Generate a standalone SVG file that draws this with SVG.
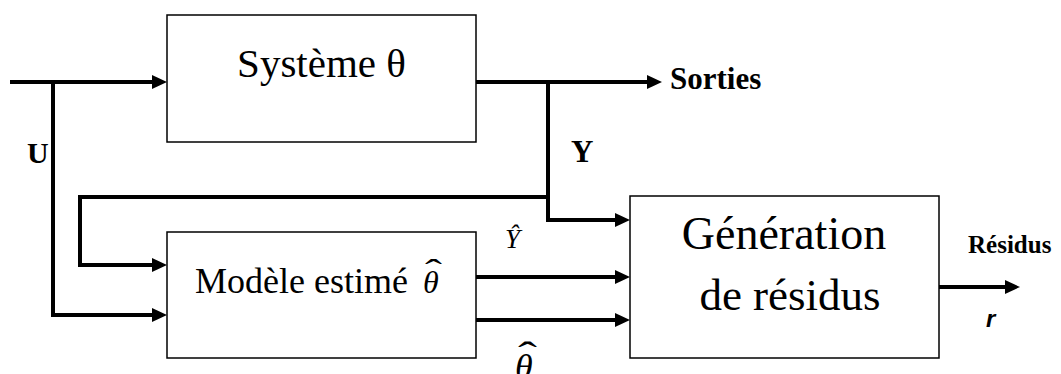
<svg xmlns="http://www.w3.org/2000/svg" width="1061" height="374" viewBox="0 0 1061 374">
<style>
.box{fill:#fff;stroke:#000;stroke-width:1.5}
.wire{fill:none;stroke:#000;stroke-width:4;stroke-linejoin:miter}
.serif{font-family:"Liberation Serif","Times New Roman",serif;fill:#000}
.bold{font-weight:bold}
.it{font-style:italic}
.sans{font-family:"Liberation Sans",Arial,sans-serif;fill:#000}
</style>
<defs>
<marker id="arr" markerUnits="userSpaceOnUse" markerWidth="16" markerHeight="15" refX="0" refY="7" orient="auto">
<path d="M0,0 L15,7 L0,14 z" fill="#000"/>
</marker>
</defs>
<rect width="1061" height="374" fill="#fff"/>
<g id="connectors">
<path class="wire" d="M10,82 H152" marker-end="url(#arr)"/>
<path class="wire" d="M53,82 V315 H152" marker-end="url(#arr)"/>
<path class="wire" d="M476,82 H647" marker-end="url(#arr)"/>
<path class="wire" d="M548,82 V220 H615" marker-end="url(#arr)"/>
<path class="wire" d="M550,197 H80 V265 H152" marker-end="url(#arr)"/>
<path class="wire" d="M476,277 H615" marker-end="url(#arr)"/>
<path class="wire" d="M476,320 H615" marker-end="url(#arr)"/>
<path class="wire" d="M939,287 H1005" marker-end="url(#arr)"/>
</g>
<g id="systeme">
<rect class="box" x="167" y="15" width="309" height="127"/>
<text class="serif" x="321.5" y="77" font-size="41" text-anchor="middle">Système θ</text>
</g>
<g id="modele">
<rect class="box" x="167" y="232" width="309" height="126"/>
<text class="serif" x="195" y="293" font-size="36">Modèle estimé</text>
<text class="serif it" x="423" y="293" font-size="32">θ</text>
<text class="serif" x="0" y="0" font-size="34" transform="translate(425,283) scale(1.5,1)">ˆ</text>
</g>
<g id="generation">
<rect class="box" x="630" y="196" width="309" height="162"/>
<text class="serif" x="784" y="249" font-size="46" text-anchor="middle">Génération</text>
<text class="serif" x="790" y="310" font-size="45" text-anchor="middle">de résidus</text>
</g>
<g id="labels">
<text class="serif bold" x="27" y="163" font-size="30">U</text>
<text class="serif bold" x="571" y="162" font-size="31">Y</text>
<text class="serif bold" x="670" y="89" font-size="31">Sorties</text>
<text class="serif bold" x="968" y="253" font-size="25">Résidus</text>
<text class="sans bold it" x="986" y="327" font-size="24">r</text>
<text class="serif it" x="505" y="248" font-size="27">Ŷ</text>
<text class="serif it" x="515" y="379" font-size="36">θ</text>
<text class="serif" x="0" y="0" font-size="38" transform="translate(518,368) scale(1.5,1)">ˆ</text>
</g>
</svg>
